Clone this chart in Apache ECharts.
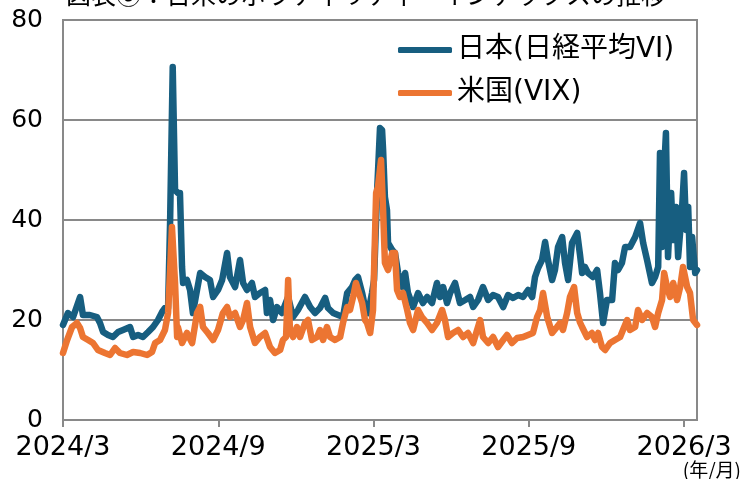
<!DOCTYPE html>
<html>
<head>
<meta charset="utf-8">
<script src="https://cdn.jsdelivr.net/npm/echarts@6/dist/echarts.min.js"></script>
<style>
  html, body { margin: 0; padding: 0; background: #fff; }
  #chart { width: 741px; height: 479px; }
</style>
</head>
<body>
<div id="chart"></div>
<script>
// 横軸は 2024/3 を 0 とした月数
const tickMonths = [0, 6, 12, 18, 24];
const tickLabels = ['2024/3', '2024/9', '2025/3', '2025/9', '2026/3'];

const seriesNames = ['日本(日経平均VI)', '米国(VIX)'];

// 日本(日経平均VI) [月数, 値]
const japanVI = [
    [0, 19], [0.19, 21.4], [0.39, 20.6], [0.66, 24.6], [0.77, 21], [1.04, 21], [1.31, 20.6], [1.43, 19.4],
    [1.55, 17.6], [1.74, 17], [1.93, 16.6], [2.13, 17.6], [2.32, 18], [2.59, 18.6], [2.71, 16.6], [2.90, 17],
    [3.09, 16.6], [3.29, 17.6], [3.48, 18.6], [3.67, 20], [3.83, 21.6], [3.94, 22.4], [4.06, 22.4], [4.14, 40],
    [4.24, 70.6], [4.33, 46], [4.44, 45.4], [4.52, 45.4], [4.60, 30.6], [4.64, 27.4], [4.79, 28], [4.91, 26],
    [5.02, 21.4], [5.18, 26], [5.30, 29.4], [5.49, 28.6], [5.68, 28], [5.80, 24.6], [5.99, 26], [6.15, 28],
    [6.34, 33.4], [6.45, 28.6], [6.65, 26.6], [6.84, 32], [6.96, 27.4], [7.11, 26], [7.30, 27.4], [7.42, 24.6],
    [7.61, 25.4], [7.81, 26], [7.88, 21.4], [8.00, 24], [8.12, 20], [8.27, 22.6], [8.46, 21.4], [8.70, 24.6],
    [8.89, 20.6], [9.08, 22], [9.35, 24.6], [9.55, 22.6], [9.74, 21.4], [9.93, 22.4], [10.13, 24.4], [10.24, 22.4],
    [10.44, 21.4], [10.63, 21], [10.82, 20.6], [10.98, 25.4], [11.17, 26.6], [11.29, 28], [11.40, 28.6], [11.56, 25.4],
    [11.67, 22.6], [11.79, 21.4], [11.94, 25.4], [12.02, 28], [12.14, 46], [12.25, 58.4], [12.33, 58], [12.37, 54],
    [12.44, 44.6], [12.52, 42], [12.56, 35.4], [12.72, 34], [12.83, 33.4], [12.95, 29.4], [13.10, 26.6], [13.22, 29.4],
    [13.33, 25.4], [13.53, 22.6], [13.72, 25.4], [13.91, 23.4], [14.07, 24.6], [14.26, 23.4], [14.45, 27.4], [14.57, 24.6],
    [14.69, 26.6], [14.84, 23.4], [14.96, 25.4], [15.15, 27.4], [15.34, 23.4], [15.54, 24], [15.73, 24.6], [15.85, 22.6],
    [16.04, 24], [16.23, 26.6], [16.43, 24], [16.62, 25], [16.81, 24.6], [17.01, 22.6], [17.20, 25], [17.39, 24.4],
    [17.59, 25], [17.78, 24.6], [17.97, 26], [18.13, 24.6], [18.24, 28.6], [18.36, 30.4], [18.51, 32], [18.63, 35.6],
    [18.74, 32], [18.90, 28], [19.01, 30], [19.13, 34.6], [19.29, 36.6], [19.40, 31.4], [19.52, 28], [19.67, 35.4],
    [19.87, 37.4], [19.98, 33], [20.06, 29.4], [20.17, 30.6], [20.29, 29.4], [20.48, 28.6], [20.64, 30], [20.75, 25.4],
    [20.87, 19.4], [21.02, 24], [21.22, 24], [21.33, 31.4], [21.45, 30], [21.60, 31.4], [21.72, 34.6], [21.91, 34.6],
    [22.11, 36.6], [22.30, 39.4], [22.42, 35.4], [22.57, 32], [22.76, 27.4], [22.88, 28.6], [23.00, 30.6], [23.07, 53.4],
    [23.15, 34.6], [23.19, 46], [23.30, 57.4], [23.38, 32.6], [23.50, 45.4], [23.58, 36], [23.69, 42.6], [23.77, 32.6],
    [23.92, 42], [24.00, 49.4], [24.08, 38], [24.16, 42.6], [24.23, 30.6], [24.31, 36.6], [24.43, 29.4], [24.5, 30]
];

// 米国(VIX) [月数, 値]
const usVIX = [
    [0, 13.4], [0.16, 16], [0.35, 18.6], [0.54, 19.4], [0.66, 18.4], [0.77, 16.6], [0.97, 16], [1.16, 15.4],
    [1.35, 14], [1.62, 13.4], [1.82, 13], [2.01, 14.4], [2.20, 13.4], [2.47, 13], [2.71, 13.6], [2.98, 13.4],
    [3.25, 13], [3.44, 13.6], [3.56, 15.4], [3.75, 16], [3.94, 18], [4.06, 21.4], [4.14, 30], [4.21, 38.6],
    [4.33, 27.4], [4.41, 16.6], [4.44, 18.6], [4.60, 15.4], [4.79, 17.4], [4.99, 15.4], [5.18, 21.4], [5.30, 22.6],
    [5.41, 18.6], [5.60, 17.4], [5.80, 16], [5.99, 18], [6.18, 21.4], [6.34, 22.6], [6.45, 20.6], [6.65, 21.4],
    [6.84, 18.6], [6.96, 20], [7.11, 23.4], [7.23, 18.6], [7.42, 15.4], [7.61, 16.6], [7.81, 17.4], [8.00, 14.6],
    [8.19, 13.4], [8.39, 14], [8.50, 16], [8.62, 16.6], [8.70, 28], [8.77, 18], [8.89, 16.6], [9.04, 18.6],
    [9.16, 16.6], [9.35, 19.4], [9.47, 20], [9.62, 16], [9.82, 16.6], [9.93, 18], [10.05, 16], [10.20, 18.6],
    [10.32, 16.6], [10.51, 16], [10.71, 16.6], [10.82, 19.4], [10.98, 22.6], [11.09, 22], [11.21, 24.6], [11.32, 27.4],
    [11.40, 26], [11.56, 23.4], [11.67, 20], [11.75, 19.4], [11.87, 17.4], [11.98, 22], [12.10, 45.4], [12.17, 46.6],
    [12.29, 52], [12.37, 42], [12.44, 31.4], [12.56, 30], [12.72, 33.4], [12.83, 33.4], [12.91, 26], [13.02, 24.6],
    [13.14, 25.4], [13.30, 22], [13.41, 19.4], [13.53, 18], [13.72, 22], [13.87, 20.6], [14.07, 19.4], [14.26, 18],
    [14.45, 19.4], [14.65, 22], [14.76, 20], [14.88, 16.6], [15.07, 17.4], [15.27, 18], [15.46, 16.6], [15.65, 17.4],
    [15.85, 15.4], [15.92, 15.4], [16.12, 20], [16.23, 16.6], [16.43, 15.4], [16.62, 16.6], [16.81, 14.6], [17.01, 16],
    [17.16, 17], [17.35, 15.4], [17.55, 16.4], [17.78, 16.6], [17.97, 17], [18.16, 17.4], [18.32, 20.6], [18.44, 22],
    [18.55, 25.4], [18.71, 20.6], [18.90, 17.4], [19.09, 18.6], [19.21, 19.4], [19.32, 18], [19.48, 21.4], [19.59, 24.6],
    [19.75, 26.6], [19.87, 21.4], [19.98, 19.5], [20.06, 18.6], [20.25, 16.6], [20.44, 17.4], [20.56, 16], [20.68, 17.4],
    [20.83, 14.6], [20.95, 14], [21.14, 15.4], [21.33, 16], [21.53, 16.6], [21.64, 18], [21.80, 20], [21.91, 18],
    [22.11, 18.6], [22.22, 22], [22.38, 20], [22.57, 21.4], [22.76, 20.6], [22.88, 18.6], [23.00, 21.4], [23.15, 24],
    [23.23, 29.4], [23.34, 26.6], [23.46, 24.6], [23.58, 27.4], [23.73, 24], [23.85, 26.6], [23.96, 30.6], [24.12, 26.6],
    [24.23, 25.4], [24.35, 20], [24.5, 19]
];

const colors = {
    japan: '#175e80',
    us: '#ec7532',
    axis: '#898989'
};

const numFont = "'DejaVu Sans', 'Noto Sans CJK JP', sans-serif";
const jpFont = "'Noto Sans CJK JP', sans-serif";

const chart = echarts.init(document.getElementById('chart'), null, { renderer: 'canvas' });

const option = {
    animation: false,
    backgroundColor: '#fff',
    title: {
        text: '図表⑥：日米のボラティリティ・インデックスの推移',
        left: 66,
        top: -18,
        padding: 0,
        textStyle: { fontFamily: jpFont, fontSize: 25, fontWeight: 'normal', color: '#000' }
    },
    grid: {
        left: 63, right: 44, top: 20, bottom: 59,
        show: true,
        borderColor: colors.axis,
        borderWidth: 2
    },
    legend: {
        orient: 'vertical',
        left: 393,
        top: 31,
        itemWidth: 54,
        itemHeight: 6,
        itemGap: 15,
        icon: 'roundRect',
        textStyle: { fontFamily: numFont, fontSize: 28, color: '#000' },
        data: seriesNames
    },
    xAxis: {
        type: 'value',
        min: 0,
        max: 24.5,
        interval: 6,
        splitLine: { show: false },
        axisLine: { show: true, lineStyle: { color: colors.axis, width: 2 } },
        axisTick: {
            show: true,
            customValues: tickMonths,
            length: 7,
            lineStyle: { color: colors.axis, width: 2 }
        },
        axisLabel: {
            customValues: tickMonths,
            margin: 14,
            fontFamily: numFont,
            fontSize: 27,
            color: '#000',
            formatter: function (v) {
                const i = tickMonths.indexOf(Math.round(v));
                return i >= 0 ? tickLabels[i] : '';
            }
        }
    },
    yAxis: {
        type: 'value',
        min: 0,
        max: 80,
        interval: 20,
        axisLine: { show: true, lineStyle: { color: colors.axis, width: 2 } },
        axisTick: { show: false },
        splitLine: { show: true, lineStyle: { color: colors.axis, width: 2 } },
        axisLabel: { margin: 20, fontFamily: numFont, fontSize: 25, color: '#000' }
    },
    graphic: [{
        type: 'text',
        right: 0,
        top: 460,
        style: { text: '(年/月)', font: "19px 'Noto Sans CJK JP'", fill: '#000' }
    }],
    series: [
        {
            name: seriesNames[0],
            type: 'line',
            data: japanVI,
            showSymbol: false,
            color: colors.japan,
            lineStyle: { color: colors.japan, width: 6.5, join: 'round', cap: 'round' }
        },
        {
            name: seriesNames[1],
            type: 'line',
            data: usVIX,
            showSymbol: false,
            color: colors.us,
            lineStyle: { color: colors.us, width: 6.5, join: 'round', cap: 'round' }
        }
    ]
};

chart.setOption(option);
</script>
</body>
</html>
